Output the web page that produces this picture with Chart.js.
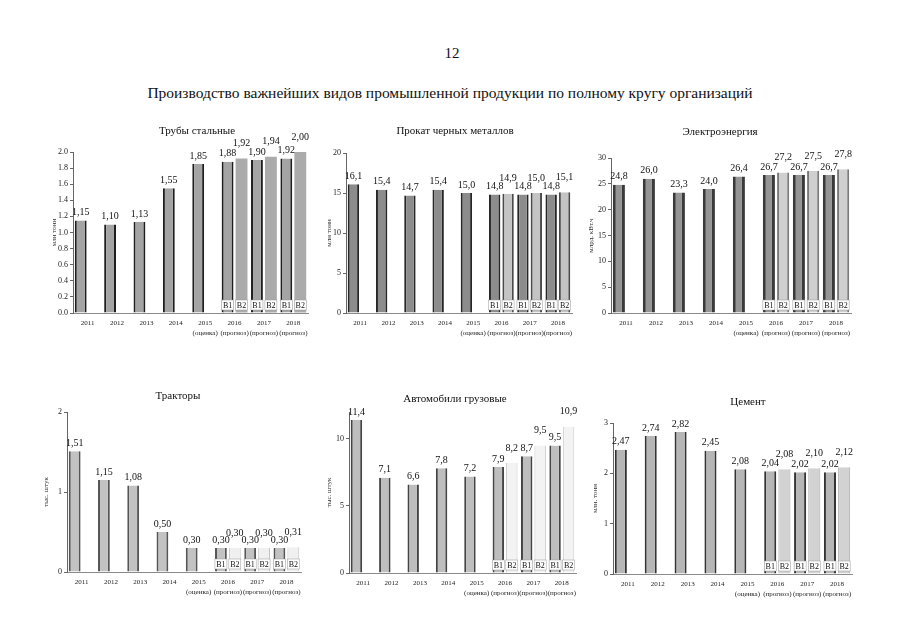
<!DOCTYPE html>
<html><head><meta charset="utf-8">
<script src="https://cdn.jsdelivr.net/npm/chart.js@4.4.1/dist/chart.umd.min.js"></script>
<style>
html,body{margin:0;padding:0;background:#fff;}
body{width:905px;height:640px;position:relative;overflow:hidden;font-family:'Liberation Serif','Times New Roman',serif;color:#111;}
canvas{position:absolute;}
.t{position:absolute;transform:translate(-50%,-50%);white-space:nowrap;font-size:11px;z-index:2;}
</style></head><body>
<canvas id="c1"></canvas><canvas id="c2"></canvas><canvas id="c3"></canvas>
<canvas id="c4"></canvas><canvas id="c5"></canvas><canvas id="c6"></canvas>
<div class="t" style="left:452px;top:53px;font-size:15px">12</div>
<div class="t" style="left:450px;top:93px;font-size:15.5px">Производство важнейших видов промышленной продукции по полному кругу организаций</div>
<div class="t" style="left:197px;top:130px">Трубы стальные</div>
<div class="t" style="left:455px;top:130px">Прокат черных металлов</div>
<div class="t" style="left:720px;top:131px">Электроэнергия</div>
<div class="t" style="left:178px;top:395px">Тракторы</div>
<div class="t" style="left:455px;top:398px">Автомобили грузовые</div>
<div class="t" style="left:748px;top:401px">Цемент</div>
<script>
const years = ['2011','2012','2013','2014','2015','2016','2017','2018'];
const yearNotes = ['','','','','(оценка)','(прогноз)','(прогноз)','(прогноз)'];
const seriesNames = ['В1','В2'];

const pipesB1 = [1.15,1.10,1.13,1.55,1.85,1.88,1.90,1.92];
const pipesB2 = [null,null,null,null,null,1.92,1.94,2.00];
const steelB1 = [16.1,15.4,14.7,15.4,15.0,14.8,14.8,14.8];
const steelB2 = [null,null,null,null,null,14.9,15.0,15.1];
const powerB1 = [24.8,26.0,23.3,24.0,26.4,26.7,26.7,26.7];
const powerB2 = [null,null,null,null,null,27.2,27.5,27.8];
const tractorsB1 = [1.51,1.15,1.08,0.50,0.30,0.30,0.30,0.30];
const tractorsB2 = [null,null,null,null,null,0.30,0.30,0.31];
const trucksB1 = [11.4,7.1,6.6,7.8,7.2,7.9,8.7,9.5];
const trucksB2 = [null,null,null,null,null,8.2,9.5,10.9];
const cementB1 = [2.47,2.74,2.82,2.45,2.08,2.04,2.02,2.02];
const cementB2 = [null,null,null,null,null,2.08,2.10,2.12];

const FONT = "'Liberation Serif','Times New Roman',serif";
const labels = years.map((y,i)=> yearNotes[i] ? [y, yearNotes[i]] : [y]);

const valPlugin = {
  id:'vals',
  afterDatasetsDraw(chart, args, opts){
    const ctx = chart.ctx, area = chart.chartArea;
    ctx.save();
    ctx.font = '10px ' + FONT;
    ctx.fillStyle = '#111'; ctx.textAlign = 'center'; ctx.textBaseline = 'bottom';
    chart.data.datasets.forEach((ds,di)=>{
      const meta = chart.getDatasetMeta(di);
      meta.data.forEach((el,i)=>{
        const v = ds.data[i];
        if (v == null) return;
        const off = di === 0 ? 3 : 10;
        ctx.fillText(v.toFixed(opts.dec).replace('.', ','), el.x, el.y - off);
      });
    });
    ctx.font = '8px ' + FONT; ctx.textBaseline = 'middle';
    chart.data.datasets[1].data.forEach((v,i)=>{
      if (v == null) return;
      [0,1].forEach(di=>{
        const el = chart.getDatasetMeta(di).data[i];
        const w = 12, h = 10, x = el.x, y = area.bottom - 8;
        ctx.fillStyle = '#fff'; ctx.fillRect(x - w/2, y - h/2, w, h);
        ctx.strokeStyle = '#999'; ctx.lineWidth = 0.5; ctx.strokeRect(x - w/2, y - h/2, w, h);
        ctx.fillStyle = '#111'; ctx.fillText(seriesNames[di], x, y + 0.5);
      });
    });
    ctx.restore();
  }
};

function make(cfg){
  const cv = document.getElementById(cfg.id);
  cv.width = cfg.cw; cv.height = cfg.ch;
  cv.style.left = cfg.cx + 'px'; cv.style.top = cfg.cy + 'px';
  cv.style.width = cfg.cw + 'px'; cv.style.height = cfg.ch + 'px';
  new Chart(cv, {
    type:'bar',
    data:{
      labels: labels,
      datasets:[
        {label:seriesNames[0], data:cfg.b1, backgroundColor:cfg.c1, borderColor:cfg.e1,
         borderWidth:{left:cfg.bw1,right:cfg.bw1,top:0,bottom:0}, borderSkipped:false,
         categoryPercentage:0.95, barPercentage:0.85},
        {label:seriesNames[1], data:cfg.b2, backgroundColor:cfg.c2, borderColor:cfg.e2,
         borderWidth:{left:cfg.bw2,right:cfg.bw2,top:0,bottom:0}, borderSkipped:false,
         categoryPercentage:0.95, barPercentage:0.85}
      ]
    },
    options:{
      responsive:false, animation:false, devicePixelRatio:1,
      layout:{padding:{top:cfg.pt, right:6, left:0, bottom:0}},
      plugins:{legend:{display:false}, tooltip:{enabled:false}, title:{display:false}, vals:{dec:cfg.dec}},
      scales:{
        x:{
          grid:{display:false, drawTicks:false},
          border:{display:true, color:'#8a8a8a', dash:[1,2], width:1},
          ticks:{font:{family:FONT, size:7, lineHeight:1.45}, color:'#222', padding:5, maxRotation:0, autoSkip:false},
          afterFit(s){ s.height = 32; }
        },
        y:{
          min:0, max:cfg.max,
          grid:{drawOnChartArea:false, drawTicks:true, tickLength:3, color:'#666'},
          border:{display:true, color:'#666', width:1},
          ticks:{stepSize:cfg.step, includeBounds:false, padding:2, color:'#222',
                 font:{family:FONT, size:8},
                 callback:(v)=> cfg.tdec ? Number(v).toFixed(cfg.tdec) : String(Math.round(v))},
          title:{display:true, text:cfg.yTitle, font:{family:FONT, size:7}, color:'#333', padding:0},
          afterFit(s){ s.width = cfg.wy; }
        }
      }
    },
    plugins:[valPlugin]
  });
}

make({id:'c1', cx:50, cy:130, cw:264, ch:215, wy:23, pt:22, max:2.0, step:0.2, tdec:1, dec:2,
      yTitle:'млн тонн', b1:pipesB1, b2:pipesB2,
      c1:'#a4a4a4', e1:'#1e1e1e', bw1:2, c2:'#ababab', e2:'#9a9a9a', bw2:0});
make({id:'c2', cx:325, cy:131, cw:253, ch:214, wy:21, pt:22, max:20, step:5, tdec:0, dec:1,
      yTitle:'млн тонн', b1:steelB1, b2:steelB2,
      c1:'#8c8c8c', e1:'#262626', bw1:2, c2:'#c4c4c4', e2:'#4a4a4a', bw2:2});
make({id:'c3', cx:587, cy:136, cw:270, ch:209, wy:24, pt:22, max:30, step:5, tdec:0, dec:1,
      yTitle:'млрд. кВт.ч', b1:powerB1, b2:powerB2,
      c1:'#959595', e1:'#3a3a3a', bw1:3, c2:'#cfcfcf', e2:'#7a7a7a', bw2:2});
make({id:'c4', cx:42, cy:390, cw:265, ch:214, wy:25, pt:22, max:2, step:1, tdec:0, dec:2,
      yTitle:'тыс. штук', b1:tractorsB1, b2:tractorsB2,
      c1:'#c2c2c2', e1:'#555555', bw1:2, c2:'#f0f0f0', e2:'#c4c4c4', bw2:1});
make({id:'c5', cx:325, cy:390, cw:257, ch:215, wy:24, pt:22, max:12, step:5, tdec:0, dec:1,
      yTitle:'тыс. штук', b1:trucksB1, b2:trucksB2,
      c1:'#bebebe', e1:'#444444', bw1:2, c2:'#f3f3f3', e2:'#c8c8c8', bw2:1});
make({id:'c6', cx:591, cy:401, cw:267, ch:205, wy:22, pt:22, max:3, step:1, tdec:0, dec:2,
      yTitle:'млн. тонн', b1:cementB1, b2:cementB2,
      c1:'#b6b6b6', e1:'#333333', bw1:2, c2:'#d2d2d2', e2:'#a8a8a8', bw2:1});
</script>
</body></html>
